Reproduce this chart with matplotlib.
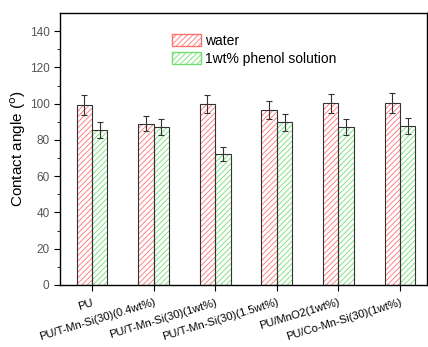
import numpy as np
import matplotlib
matplotlib.use('Agg')
import matplotlib.pyplot as plt
from matplotlib.patches import Patch

#data
samples = ['PU', 'PU/T-Mn-Si(30)(0.4wt%)', 'PU/T-Mn-Si(30)(1wt%)',
           'PU/T-Mn-Si(30)(1.5wt%)', 'PU/MnO2(1wt%)', 'PU/Co-Mn-Si(30)(1wt%)']
water = [99.3, 89.0, 100.0, 96.5, 100.2, 100.2]
water_err = [5.3, 4.2, 5.0, 5.0, 5.2, 5.5]
phenol = [85.5, 87.1, 72.2, 89.7, 87.1, 87.8]
phenol_err = [4.4, 4.5, 4.0, 4.6, 4.4, 4.3]

plt.rcParams['font.family'] = ['Liberation Sans', 'DejaVu Sans']
plt.rcParams['hatch.linewidth'] = 0.6

fig = plt.figure(figsize=(4.28, 3.47), dpi=100)
ax = fig.add_axes([0.140, 0.1787, 0.858, 0.7838])

x = np.arange(1, len(samples) + 1)
w = 0.25
red_h = '#ff7070'
green_h = '#70e070'

#hatched fill (hatch uses edge colour), then a dark outline on top
ax.bar(x - w/2, water, w, color='white', edgecolor=red_h, hatch='//////', linewidth=0)
ax.bar(x + w/2, phenol, w, color='white', edgecolor=green_h, hatch='//////', linewidth=0)
ax.bar(x - w/2, water, w, fill=False, edgecolor='#333333', linewidth=0.8)
ax.bar(x + w/2, phenol, w, fill=False, edgecolor='#333333', linewidth=0.8)

ax.errorbar(x - w/2, water, yerr=water_err, fmt='none', ecolor='#333333', elinewidth=0.8, capsize=2.2, capthick=0.8)
ax.errorbar(x + w/2, phenol, yerr=phenol_err, fmt='none', ecolor='#333333', elinewidth=0.8, capsize=2.2, capthick=0.8)

#legend proxies
handles = [Patch(facecolor='white', edgecolor=red_h, hatch='//////', label='water'),
           Patch(facecolor='white', edgecolor=green_h, hatch='//////', label='1wt% phenol solution')]
ax.legend(handles=handles, loc='upper left', bbox_to_anchor=(0.27, 0.97), frameon=False,
          fontsize=10, handlelength=2.1, handleheight=0.9, handletextpad=0.3, labelspacing=0.3)

ax.set_xlim(0.48, 6.44)
ax.set_ylim(0, 150)
ax.set_yticks(np.arange(0, 141, 20))
ax.set_yticks(np.arange(0, 150, 10), minor=True)
ax.set_xticks(x)
ax.set_xticklabels(samples, rotation=17, ha='right', rotation_mode='anchor', fontsize=8)
for lab in ax.get_xticklabels():
    lab.set_x(0)
ax.tick_params(axis='y', labelsize=8.5, labelcolor='#555555', direction='out', length=4)
ax.tick_params(axis='y', which='minor', direction='out', length=2)
ax.tick_params(axis='x', direction='out', length=4, pad=5)
ax.set_ylabel('Contact angle ($^{\\rm o}$)', fontsize=11, labelpad=1)

for s in ax.spines.values():
    s.set_linewidth(1.0)

plt.savefig('out.png', dpi=100)
plt.close()
